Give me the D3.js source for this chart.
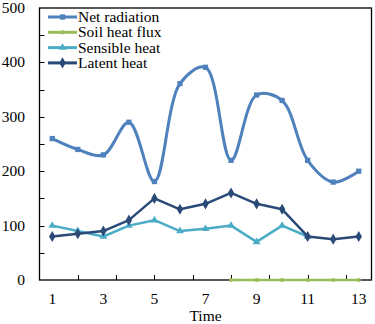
<!DOCTYPE html>
<html>
<head>
<meta charset="utf-8">
<script src="https://cdn.jsdelivr.net/npm/d3@7"></script>
<style>
  html, body { margin: 0; padding: 0; background: #fff; }
  svg { display: block; }
  text { font-family: "Liberation Serif", "Times New Roman", serif; fill: #000; }
</style>
</head>
<body>
<svg id="chart" width="375" height="324"></svg>
<script>
// 数据
const times = [1, 2, 3, 4, 5, 6, 7, 8, 9, 10, 11, 12, 13];
const netRadiation = [260, 240, 230, 290, 181, 361, 391, 220, 340, 330, 220, 180, 200];
const soilHeatFlux = [null, null, null, null, null, null, null, 0, 0, 0, 0, 0, 0];
const sensibleHeat = [100, 90, 80, 100, 110, 90, 94, 100, 70, 100, 80, null, null];
const latentHeat = [80, 85, 90, 110, 150, 130, 140, 160, 140, 130, 80, 75, 80];

const xLabels = [1, 3, 5, 7, 9, 11, 13];
const xTickMarks = [2, 3.5, 5, 6.5, 8, 9.5, 11, 12.5];
const yLabels = [0, 100, 200, 300, 400, 500];
const yTickMarks = [50, 100, 150, 200, 250, 300, 350, 400, 450];

const series = [
    { name: "Net radiation", values: netRadiation, color: "#4F81BD", marker: "square", smooth: true, width: 3 },
    { name: "Soil heat flux", values: soilHeatFlux, color: "#9BBB59", marker: "circle", smooth: false, width: 2.5 },
    { name: "Sensible heat", values: sensibleHeat, color: "#4BACC6", marker: "triangle", smooth: false, width: 2.5 },
    { name: "Latent heat", values: latentHeat, color: "#2A4A78", marker: "diamond", smooth: false, width: 2.5 }
];

const svg = d3.select("#chart");
const margin = { left: 39.5, top: 8, right: 3.5, bottom: 44 };
const W = 375, H = 324;
const fontSize = 15.5;

const x = d3.scaleLinear().domain([0.5, 13.5]).range([margin.left, W - margin.right]);
const y = d3.scaleLinear().domain([0, 500]).range([H - margin.bottom, margin.top]);

// 边框
svg.append("rect")
    .attr("x", x(0.5)).attr("y", y(500))
    .attr("width", x(13.5) - x(0.5)).attr("height", y(0) - y(500))
    .attr("fill", "none").attr("stroke", "#000").attr("stroke-width", 1.3);

// y 轴刻度（朝内）
svg.append("g").selectAll("line")
    .data(yTickMarks).enter().append("line")
    .attr("x1", x(0.5)).attr("x2", x(0.5) + 5)
    .attr("y1", d => Math.round(y(d)) + 0.5).attr("y2", d => Math.round(y(d)) + 0.5)
    .attr("stroke", "#000").attr("stroke-width", 1);

svg.append("g").selectAll("text")
    .data(yLabels).enter().append("text")
    .attr("x", 25).attr("y", d => y(d) + 5)
    .attr("text-anchor", "end").attr("font-size", fontSize)
    .text(d => d);

// x 轴刻度（朝内）
svg.append("g").selectAll("line")
    .data(xTickMarks).enter().append("line")
    .attr("x1", d => Math.round(x(d)) + 0.5).attr("x2", d => Math.round(x(d)) + 0.5)
    .attr("y1", y(0)).attr("y2", y(0) - 5)
    .attr("stroke", "#000").attr("stroke-width", 1);

svg.append("g").selectAll("text")
    .data(xLabels).enter().append("text")
    .attr("x", d => x(d)).attr("y", 304)
    .attr("text-anchor", "middle").attr("font-size", fontSize)
    .text(d => d);

svg.append("text")
    .attr("x", (x(0.5) + x(13.5)) / 2).attr("y", 321)
    .attr("text-anchor", "middle").attr("font-size", fontSize)
    .text("Time");

// 标记符号
function markerPath(type) {
    const sym = { square: d3.symbolSquare, circle: d3.symbolCircle, triangle: d3.symbolTriangle, diamond: d3.symbolDiamond }[type];
    const size = { square: 28, circle: 14, triangle: 26, diamond: 36 }[type];
    return d3.symbol().type(sym).size(size)();
}

// 折线
const plot = svg.append("g");
series.forEach(s => {
    const pts = times.map((t, i) => ({ t, v: s.values[i] })).filter(p => p.v !== null);
    const line = d3.line()
        .x(p => x(p.t)).y(p => y(p.v))
        .curve(s.smooth ? d3.curveCatmullRom.alpha(0.5) : d3.curveLinear);
    plot.append("path")
        .datum(pts)
        .attr("d", line)
        .attr("fill", "none")
        .attr("stroke", s.color)
        .attr("stroke-width", s.width)
        .attr("stroke-linejoin", "round");
    plot.append("g").selectAll("path")
        .data(pts).enter().append("path")
        .attr("transform", p => `translate(${x(p.t)},${y(p.v)})`)
        .attr("d", markerPath(s.marker))
        .attr("fill", s.color);
});

// 图例
const legend = svg.append("g");
series.forEach((s, i) => {
    const cy = 17 + i * 15.3;
    legend.append("line")
        .attr("x1", 48).attr("x2", 77).attr("y1", cy).attr("y2", cy)
        .attr("stroke", s.color).attr("stroke-width", 3);
    legend.append("path")
        .attr("transform", `translate(62.5,${cy})`)
        .attr("d", markerPath(s.marker))
        .attr("fill", s.color);
    legend.append("text")
        .attr("x", 78).attr("y", cy + 5)
        .attr("font-size", fontSize)
        .text(s.name);
});
</script>
</body>
</html>
